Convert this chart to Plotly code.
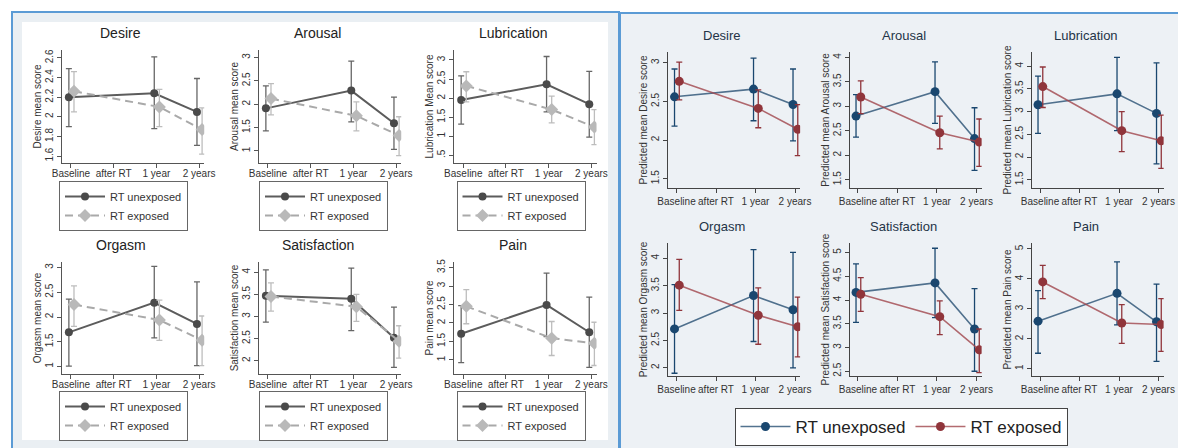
import plotly.graph_objects as go

# ---------------- data ----------------
CATEGORIES = ["Baseline", "after RT", "1 year", "2 years"]
MEASURED = ["Baseline", "1 year", "2 years"]
OUTCOMES = ["Desire", "Arousal", "Lubrication", "Orgasm", "Satisfaction", "Pain"]
GROUPS = ["RT unexposed", "RT exposed"]

# Left panel: observed mean scores (mean, lower CI, upper CI) per timepoint
obs_desire_unexp = [2.20, 2.24, 2.05]
obs_desire_unexp_lo = [1.90, 1.88, 1.71]
obs_desire_unexp_hi = [2.49, 2.61, 2.39]
obs_desire_exp = [2.26, 2.10, 1.87]
obs_desire_exp_lo = [2.05, 1.90, 1.62]
obs_desire_exp_hi = [2.46, 2.28, 2.09]

obs_arousal_unexp = [1.91, 2.29, 1.59]
obs_arousal_unexp_lo = [1.43, 1.62, 1.03]
obs_arousal_unexp_hi = [2.39, 2.92, 2.15]
obs_arousal_exp = [2.12, 1.75, 1.33]
obs_arousal_exp_lo = [1.77, 1.43, 0.90]
obs_arousal_exp_hi = [2.44, 2.05, 1.73]

obs_lubrication_unexp = [1.95, 2.36, 1.84]
obs_lubrication_unexp_lo = [1.32, 1.64, 0.98]
obs_lubrication_unexp_hi = [2.58, 3.09, 2.70]
obs_lubrication_exp = [2.32, 1.70, 1.24]
obs_lubrication_exp_lo = [1.90, 1.35, 0.78]
obs_lubrication_exp_hi = [2.69, 2.05, 1.70]

obs_orgasm_unexp = [1.69, 2.29, 1.86]
obs_orgasm_unexp_lo = [1.01, 1.58, 1.02]
obs_orgasm_unexp_hi = [2.36, 3.02, 2.71]
obs_orgasm_exp = [2.25, 1.94, 1.53]
obs_orgasm_exp_lo = [1.81, 1.53, 1.02]
obs_orgasm_exp_hi = [2.63, 2.34, 2.02]

obs_satisfaction_unexp = [3.47, 3.40, 2.52]
obs_satisfaction_unexp_lo = [2.87, 2.68, 1.85]
obs_satisfaction_unexp_hi = [4.05, 4.09, 3.21]
obs_satisfaction_exp = [3.45, 3.22, 2.44]
obs_satisfaction_exp_lo = [3.12, 2.89, 2.06]
obs_satisfaction_exp_hi = [3.76, 3.50, 2.79]

obs_pain_unexp = [1.71, 2.49, 1.75]
obs_pain_unexp_lo = [0.93, 1.63, 0.80]
obs_pain_unexp_hi = [2.47, 3.35, 2.70]
obs_pain_exp = [2.45, 1.59, 1.45]
obs_pain_exp_lo = [1.98, 1.12, 0.85]
obs_pain_exp_hi = [2.90, 2.04, 2.02]

# Right panel: predicted mean scores
pred_desire_unexp = [2.56, 2.66, 2.46]
pred_desire_unexp_lo = [2.18, 2.25, 1.99]
pred_desire_unexp_hi = [2.92, 3.06, 2.92]
pred_desire_exp = [2.76, 2.41, 2.14]
pred_desire_exp_lo = [2.52, 2.16, 1.80]
pred_desire_exp_hi = [3.01, 2.65, 2.46]

pred_arousal_unexp = [2.80, 3.30, 2.34]
pred_arousal_unexp_lo = [2.37, 2.65, 1.69]
pred_arousal_unexp_hi = [3.24, 3.91, 2.97]
pred_arousal_exp = [3.19, 2.46, 2.27]
pred_arousal_exp_lo = [2.85, 2.13, 1.77]
pred_arousal_exp_hi = [3.52, 2.80, 2.74]

pred_lubrication_unexp = [3.15, 3.39, 2.96]
pred_lubrication_unexp_lo = [2.52, 2.58, 1.85]
pred_lubrication_unexp_hi = [3.78, 4.19, 4.07]
pred_lubrication_exp = [3.55, 2.58, 2.36]
pred_lubrication_exp_lo = [3.09, 2.12, 1.75]
pred_lubrication_exp_hi = [3.98, 3.00, 2.92]

pred_orgasm_unexp = [2.71, 3.32, 3.06]
pred_orgasm_unexp_lo = [1.90, 2.48, 2.00]
pred_orgasm_unexp_hi = [3.52, 4.16, 4.11]
pred_orgasm_exp = [3.51, 2.96, 2.75]
pred_orgasm_exp_lo = [3.05, 2.43, 2.20]
pred_orgasm_exp_hi = [3.98, 3.46, 3.29]

pred_satisfaction_unexp = [4.16, 4.36, 3.39]
pred_satisfaction_unexp_lo = [3.53, 3.63, 2.50]
pred_satisfaction_unexp_hi = [4.76, 5.09, 4.24]
pred_satisfaction_exp = [4.12, 3.65, 2.95]
pred_satisfaction_exp_lo = [3.76, 3.27, 2.47]
pred_satisfaction_exp_hi = [4.47, 3.98, 3.39]

pred_pain_unexp = [2.59, 3.52, 2.57]
pred_pain_unexp_lo = [1.52, 2.47, 1.25]
pred_pain_unexp_hi = [3.61, 4.57, 3.83]
pred_pain_exp = [3.90, 2.53, 2.48]
pred_pain_exp_lo = [3.34, 1.85, 1.58]
pred_pain_exp_hi = [4.45, 3.14, 3.34]

# y tick labels
obs_yticks = {
    "Desire": ["1.6", "1.8", "2", "2.2", "2.4", "2.6"],
    "Arousal": ["1", "1.5", "2", "2.5", "3"],
    "Lubrication": [".5", "1", "1.5", "2", "2.5", "3"],
    "Orgasm": ["1", "1.5", "2", "2.5", "3"],
    "Satisfaction": ["2", "2.5", "3", "3.5", "4"],
    "Pain": ["1", "1.5", "2", "2.5", "3", "3.5"],
}
pred_yticks = {
    "Desire": ["1.5", "2", "2.5", "3"],
    "Arousal": ["1.5", "2", "2.5", "3", "3.5", "4"],
    "Lubrication": ["1.5", "2", "2.5", "3", "3.5", "4"],
    "Orgasm": ["2", "2.5", "3", "3.5", "4"],
    "Satisfaction": ["2.5", "3", "3.5", "4", "4.5", "5"],
    "Pain": ["1", "2", "3", "4", "5"],
}
obs_ylabels = {
    "Desire": "Desire mean score", "Arousal": "Arousal mean score",
    "Lubrication": "Lubrication Mean score", "Orgasm": "Orgasm mean score",
    "Satisfaction": "Satisfaction mean score", "Pain": "Pain mean score",
}
pred_ylabels = {k: "Predicted mean %s score" % k for k in OUTCOMES}

OBS = {
    "Desire": [(obs_desire_unexp, obs_desire_unexp_lo, obs_desire_unexp_hi),
               (obs_desire_exp, obs_desire_exp_lo, obs_desire_exp_hi)],
    "Arousal": [(obs_arousal_unexp, obs_arousal_unexp_lo, obs_arousal_unexp_hi),
                (obs_arousal_exp, obs_arousal_exp_lo, obs_arousal_exp_hi)],
    "Lubrication": [(obs_lubrication_unexp, obs_lubrication_unexp_lo, obs_lubrication_unexp_hi),
                    (obs_lubrication_exp, obs_lubrication_exp_lo, obs_lubrication_exp_hi)],
    "Orgasm": [(obs_orgasm_unexp, obs_orgasm_unexp_lo, obs_orgasm_unexp_hi),
               (obs_orgasm_exp, obs_orgasm_exp_lo, obs_orgasm_exp_hi)],
    "Satisfaction": [(obs_satisfaction_unexp, obs_satisfaction_unexp_lo, obs_satisfaction_unexp_hi),
                     (obs_satisfaction_exp, obs_satisfaction_exp_lo, obs_satisfaction_exp_hi)],
    "Pain": [(obs_pain_unexp, obs_pain_unexp_lo, obs_pain_unexp_hi),
             (obs_pain_exp, obs_pain_exp_lo, obs_pain_exp_hi)],
}
PRED = {
    "Desire": [(pred_desire_unexp, pred_desire_unexp_lo, pred_desire_unexp_hi),
               (pred_desire_exp, pred_desire_exp_lo, pred_desire_exp_hi)],
    "Arousal": [(pred_arousal_unexp, pred_arousal_unexp_lo, pred_arousal_unexp_hi),
                (pred_arousal_exp, pred_arousal_exp_lo, pred_arousal_exp_hi)],
    "Lubrication": [(pred_lubrication_unexp, pred_lubrication_unexp_lo, pred_lubrication_unexp_hi),
                    (pred_lubrication_exp, pred_lubrication_exp_lo, pred_lubrication_exp_hi)],
    "Orgasm": [(pred_orgasm_unexp, pred_orgasm_unexp_lo, pred_orgasm_unexp_hi),
               (pred_orgasm_exp, pred_orgasm_exp_lo, pred_orgasm_exp_hi)],
    "Satisfaction": [(pred_satisfaction_unexp, pred_satisfaction_unexp_lo, pred_satisfaction_unexp_hi),
                     (pred_satisfaction_exp, pred_satisfaction_exp_lo, pred_satisfaction_exp_hi)],
    "Pain": [(pred_pain_unexp, pred_pain_unexp_lo, pred_pain_unexp_hi),
             (pred_pain_exp, pred_pain_exp_lo, pred_pain_exp_hi)],
}

# ---------------- layout constants ----------------
W, H = 1178, 448
FONT = "Liberation Sans, Arial, Helvetica, sans-serif"

def fx(p):
    return p / W

def fy(p):
    return 1 - p / H

OBS_YRANGE = {"Desire": [1.53, 2.68], "Arousal": [0.74, 3.16], "Lubrication": [0.30, 3.26],
              "Orgasm": [0.85, 3.11], "Satisfaction": [1.70, 4.23], "Pain": [0.62, 3.65]}
PRED_YRANGE = {"Desire": [1.38, 3.14], "Arousal": [1.33, 4.11], "Lubrication": [1.32, 4.31],
               "Orgasm": [1.85, 4.28], "Satisfaction": [2.40, 5.20], "Pain": [0.76, 5.20]}

LEFT_BASE = [71.0, 268.0, 463.3]
LEFT_UNIT = 42.7
LEFT_XR = [-0.22, 3.12]
LEFT_ROWS = [(50, 163), (262, 374)]
LEFT_LEG = [(123.5, 181), (323.5, 181), (521, 181), (123.5, 391), (323.5, 391), (521, 391)]

RIGHT_BASE = [676.5, 858.0, 1040.0]
RIGHT_UNIT = 39.5
RIGHT_XR = [-0.21, 3.13]
RIGHT_ROWS = [(52, 188), (243, 376)]

OFFSETS = [-0.05, 0.07]

STY_LEFT = [
    dict(line=dict(color="#5c5c5c", width=2), marker=dict(symbol="circle", size=8, color="#4a4a4a"),
         err="#666666"),
    dict(line=dict(color="#a9a9a9", width=2, dash="8px,5px"),
         marker=dict(symbol="diamond", size=10, color="#b9b9b9"), err="#bdbdbd"),
]
STY_RIGHT = [
    dict(line=dict(color="rgba(40,80,115,0.8)", width=1.6), marker=dict(symbol="circle", size=9, color="#1a476f"),
         err="#1a476f"),
    dict(line=dict(color="rgba(160,70,76,0.8)", width=1.6), marker=dict(symbol="circle", size=9, color="#90353b"),
         err="#90353b"),
]

fig = go.Figure()
layout = dict(
    width=W, height=H, margin=dict(l=0, r=0, t=0, b=0, autoexpand=False),
    paper_bgcolor="white", plot_bgcolor="rgba(0,0,0,0)",
    font=dict(family=FONT, color="#333333"),
    showlegend=True, annotations=[], shapes=[],
)

layout["shapes"] += [
    dict(type="rect", xref="paper", yref="paper", x0=fx(12), x1=fx(619), y0=fy(452), y1=fy(12),
         fillcolor="#eaeff3", line=dict(color="#5b9bd5", width=2), layer="below"),
    dict(type="rect", xref="paper", yref="paper", x0=fx(22), x1=fx(608), y0=fy(440), y1=fy(22),
         fillcolor="#ffffff", line=dict(width=0), layer="below"),
    dict(type="rect", xref="paper", yref="paper", x0=fx(620), x1=fx(1182), y0=fy(452), y1=fy(13),
         fillcolor="#edf1f5", line=dict(color="#5b9bd5", width=2), layer="below"),
]

n = 0
for panel in ("left", "right"):
    data = OBS if panel == "left" else PRED
    for k, outc in enumerate(OUTCOMES):
        n += 1
        col, row = k % 3, k // 3
        if panel == "left":
            base, unit, xr = LEFT_BASE[col], LEFT_UNIT, LEFT_XR
            ytop, ybot = LEFT_ROWS[row]
            yr, yt, ylab = OBS_YRANGE[outc], obs_yticks[outc], obs_ylabels[outc]
            styles = STY_LEFT
            legname = "legend" if k == 0 else "legend%d" % (k + 1)
            axcol, tfs, title_fs = "#555555", 10, 14
            title_color = "#222222"
            xstand = -3
        else:
            base, unit, xr = RIGHT_BASE[col], RIGHT_UNIT, RIGHT_XR
            ytop, ybot = RIGHT_ROWS[row]
            yr, yt, ylab = PRED_YRANGE[outc], pred_yticks[outc], pred_ylabels[outc]
            styles = STY_RIGHT
            legname = "legend7"
            axcol, tfs, title_fs = "#444444", 10, 13
            title_color = "#243447"
            xstand = 0
        x0 = base + xr[0] * unit
        x1 = base + xr[1] * unit
        xa = "xaxis" if n == 1 else "xaxis%d" % n
        ya = "yaxis" if n == 1 else "yaxis%d" % n
        xs = "x" if n == 1 else "x%d" % n
        ys = "y" if n == 1 else "y%d" % n
        layout[xa] = dict(domain=[fx(x0), fx(x1)], range=xr, anchor=ys,
                          tickvals=list(range(len(CATEGORIES))), ticktext=CATEGORIES,
                          showline=True, linecolor=axcol, linewidth=1, ticks="outside", ticklen=4,
                          tickcolor=axcol, showgrid=False, zeroline=False,
                          ticklabelstandoff=xstand,
                          tickfont=dict(size=tfs, color="#333333"), fixedrange=True)
        layout[ya] = dict(domain=[fy(ybot), fy(ytop)], range=yr, anchor=xs,
                          tickvals=[float(t) for t in yt], ticktext=yt, tickangle=-90,
                          showline=True, linecolor=axcol, linewidth=1, ticks="outside", ticklen=4,
                          tickcolor=axcol, showgrid=False, zeroline=False,
                          tickfont=dict(size=tfs, color="#333333"), fixedrange=True,
                          title=dict(text=ylab, font=dict(size=10, color="#333333"), standoff=0))
        layout["annotations"].append(dict(
            text=outc, xref="paper", yref="paper", x=fx((x0 + x1) / 2 - 12),
            y=fy(ytop - 7), xanchor="center", yanchor="bottom", showarrow=False,
            font=dict(size=title_fs, color=title_color)))
        for g, (mean, lo, hi) in enumerate(data[outc]):
            st = styles[g]
            xs_vals = [CATEGORIES.index(c) + OFFSETS[g] for c in MEASURED]
            fig.add_trace(go.Scatter(
                x=xs_vals, y=mean, mode="lines+markers", name=GROUPS[g],
                xaxis=xs, yaxis=ys, legend=legname,
                showlegend=(panel == "left" or k == 0),
                line=st["line"], marker=st["marker"],
                error_y=dict(type="data", symmetric=False,
                             array=[h - m for h, m in zip(hi, mean)],
                             arrayminus=[m - l for m, l in zip(mean, lo)],
                             color=st["err"], thickness=1.3, width=3),
                hoverinfo="skip"))

for k in range(6):
    lname = "legend" if k == 0 else "legend%d" % (k + 1)
    cx, ty = LEFT_LEG[k]
    layout[lname] = dict(x=fx(cx), y=fy(ty), xanchor="center", yanchor="top",
                         bgcolor="rgba(0,0,0,0)", bordercolor="#666666", borderwidth=1,
                         font=dict(size=11, color="#333333", family=FONT),
                         itemwidth=40, tracegroupgap=0, orientation="v")
layout["legend7"] = dict(x=fx(901), y=fy(408), xanchor="center", yanchor="top",
                         bgcolor="white", bordercolor="#444444", borderwidth=1,
                         font=dict(size=17, color="#222222", family=FONT),
                         itemwidth=50, orientation="h")

fig.update_layout(**layout)
fig.write_html("out.html", config={"displayModeBar": False},
               post_script="document.body.style.margin='0';document.body.style.padding='0';")
